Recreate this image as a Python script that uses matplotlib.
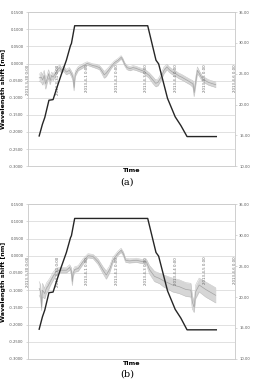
import matplotlib.pyplot as plt

# x positions are days after 2013-3-30 0:00
date_labels = ['2013-3-30 0:00', '2013-3-31 0:00', '2013-4-1 0:00', '2013-4-2 0:00',
               '2013-4-3 0:00', '2013-4-4 0:00', '2013-4-5 0:00', '2013-4-6 0:00']
left_ticks = [0.15, 0.10, 0.05, 0.0, -0.05, -0.10, -0.15, -0.20, -0.25, -0.30]
right_ticks = [35, 30, 25, 20, 15, 10]

# temperature profile (right axis)
temp_days = [0.38, 0.49, 0.57, 0.71, 0.85, 0.99, 1.13, 1.30, 1.44, 1.47, 1.58,
             4.05, 4.33, 4.42, 4.72, 4.98, 5.17, 5.38, 6.37]
temp_a = [14.9, 16.8, 17.9, 20.7, 20.8, 22.9, 24.9, 27.2, 29.6, 29.9, 32.8,
          32.8, 27.2, 26.6, 21.0, 18.0, 16.6, 14.8, 14.8]
temp_b = [14.8, 16.8, 17.9, 20.7, 20.8, 22.9, 24.9, 27.2, 29.6, 29.9, 32.7,
          32.7, 27.2, 26.6, 21.0, 18.0, 16.6, 14.7, 14.7]

# wavelength shift (a): mid line and half width of the grey band
days_a = [0.38, 0.45, 0.50, 0.55, 0.60, 0.65, 0.70, 0.75, 0.80, 0.85, 0.92, 1.00,
          1.07, 1.13, 1.20, 1.30, 1.40, 1.47, 1.52, 1.56, 1.60, 1.70, 1.80, 1.90,
          2.00, 2.10, 2.20, 2.30, 2.42, 2.50, 2.58, 2.65, 2.72, 2.82, 2.93, 3.05,
          3.15, 3.20, 3.27, 3.35, 3.45, 3.55, 3.65, 3.77, 3.90, 4.00, 4.10, 4.22,
          4.32, 4.40, 4.50, 4.60, 4.70, 4.78, 4.89, 5.00, 5.10, 5.20, 5.30, 5.40,
          5.50, 5.58, 5.62, 5.66, 5.73, 5.80, 5.90, 6.00, 6.10, 6.20, 6.35]
shift_a = [-0.042, -0.040, -0.048, -0.035, -0.060, -0.045, -0.030, -0.050, -0.035,
           -0.040, -0.030, -0.018, -0.012, -0.020, -0.015, -0.025, -0.020, -0.030,
           -0.040, -0.070, -0.030, -0.015, -0.010, -0.005, 0.000, -0.003, -0.006,
           -0.008, -0.012, -0.022, -0.033, -0.028, -0.020, -0.008, 0.003, 0.010,
           0.018, 0.012, -0.002, -0.012, -0.015, -0.012, -0.014, -0.018, -0.022,
           -0.028, -0.035, -0.048, -0.058, -0.055, -0.040, -0.020, -0.010, -0.018,
           -0.025, -0.030, -0.036, -0.040, -0.045, -0.050, -0.055, -0.060, -0.085,
           -0.060, -0.020, -0.030, -0.045, -0.050, -0.055, -0.058, -0.062]
spread_a = [0.010, 0.015, 0.015, 0.015, 0.015, 0.012, 0.012, 0.012, 0.010, 0.010,
            0.008, 0.008, 0.008, 0.008, 0.008, 0.008, 0.008, 0.008, 0.010, 0.010,
            0.008, 0.006, 0.006, 0.006, 0.005, 0.005, 0.005, 0.006, 0.006, 0.008,
            0.010, 0.010, 0.008, 0.006, 0.005, 0.005, 0.005, 0.005, 0.005, 0.006,
            0.006, 0.006, 0.006, 0.006, 0.006, 0.008, 0.008, 0.010, 0.010, 0.010,
            0.010, 0.010, 0.008, 0.008, 0.008, 0.008, 0.008, 0.008, 0.008, 0.008,
            0.008, 0.010, 0.012, 0.012, 0.010, 0.008, 0.008, 0.008, 0.008, 0.008,
            0.008]

# wavelength shift (b)
days_b = [0.38, 0.43, 0.46, 0.49, 0.57, 0.62, 0.68, 0.75, 0.85, 0.96, 1.07, 1.19,
          1.30, 1.41, 1.47, 1.50, 1.53, 1.58, 1.70, 1.86, 2.03, 2.20, 2.37, 2.54,
          2.65, 2.76, 2.87, 3.04, 3.15, 3.23, 3.30, 3.43, 3.66, 3.88, 4.00, 4.11,
          4.28, 4.45, 4.61, 4.72, 4.89, 5.12, 5.34, 5.51, 5.56, 5.62, 5.67, 5.79,
          6.01, 6.35]
shift_b = [-0.095, -0.105, -0.150, -0.100, -0.110, -0.095, -0.088, -0.076, -0.060,
           -0.046, -0.042, -0.042, -0.042, -0.034, -0.045, -0.075, -0.050, -0.040,
           -0.037, -0.017, 0.000, -0.002, -0.017, -0.042, -0.056, -0.040, -0.013,
           0.007, 0.016, 0.005, -0.013, -0.015, -0.013, -0.017, -0.017, -0.040,
           -0.060, -0.066, -0.074, -0.078, -0.085, -0.090, -0.098, -0.100, -0.135,
           -0.150, -0.105, -0.085, -0.098, -0.115]
spread_b = [0.020, 0.020, 0.010, 0.020, 0.015, 0.015, 0.015, 0.012, 0.012, 0.010,
            0.008, 0.008, 0.008, 0.008, 0.010, 0.012, 0.010, 0.008, 0.008, 0.008,
            0.006, 0.006, 0.008, 0.010, 0.012, 0.010, 0.008, 0.006, 0.006, 0.006,
            0.006, 0.006, 0.006, 0.006, 0.008, 0.012, 0.015, 0.015, 0.018, 0.018,
            0.020, 0.020, 0.020, 0.020, 0.020, 0.015, 0.020, 0.020, 0.022, 0.022]

fig = plt.figure(figsize=(2.54, 3.81), dpi=100)
fig.patch.set_facecolor('white')


def draw_panel(rect, days, shift, spread, temps, tag, tag_y):
    ax = fig.add_axes(rect)
    lo = [m - s for m, s in zip(shift, spread)]
    hi = [m + s for m, s in zip(shift, spread)]
    ax.fill_between(days, lo, hi, color='#d6d6d6', lw=0, zorder=2)
    ax.plot(days, lo, color='#bdbdbd', lw=0.35, zorder=3)
    ax.plot(days, hi, color='#c2c2c2', lw=0.35, zorder=3)
    ax.plot(days, shift, color='#a3a3a3', lw=0.5, zorder=3)
    ax.set_xlim(0, 7)
    ax.set_ylim(-0.30, 0.15)
    ax.set_yticks(left_ticks)
    ax.set_yticklabels(['%.4f' % v for v in left_ticks], fontsize=2.7, color='#555555')
    ax.set_xticks([])
    ax.grid(axis='y', color='#d4d4d4', lw=0.5, zorder=0)
    ax.tick_params(axis='y', length=1.5, width=0.4, color='#bbbbbb', pad=1.5)
    for sp in ax.spines.values():
        sp.set_color('#cccccc')
        sp.set_linewidth(0.5)
    for i, lab in enumerate(date_labels):
        ax.text(i, -0.003, lab, rotation=90, ha='center', va='top',
                fontsize=2.8, color='#666666', zorder=4)
    ax.set_ylabel('Wavelength shift [nm]', fontsize=4.6, fontweight='bold', labelpad=2)
    ax.set_xlabel('Time', fontsize=4.6, fontweight='bold', labelpad=1.5)

    ax2 = ax.twinx()
    ax2.plot(temp_days, temps, color='#262626', lw=1.0, zorder=5)
    ax2.set_ylim(10, 35)
    ax2.set_yticks(right_ticks)
    ax2.set_yticklabels(['%.2f' % v for v in right_ticks], fontsize=2.7, color='#555555')
    ax2.tick_params(axis='y', length=1.5, width=0.4, color='#bbbbbb', pad=1.5)
    for sp in ax2.spines.values():
        sp.set_color('#cccccc')
        sp.set_linewidth(0.5)
    fig.text(0.5, tag_y, tag, ha='center', va='center', fontsize=7, family='DejaVu Serif')


draw_panel([0.110, 0.564, 0.815, 0.404], days_a, shift_a, spread_a, temp_a, '(a)', 0.522)
draw_panel([0.110, 0.058, 0.815, 0.406], days_b, shift_b, spread_b, temp_b, '(b)', 0.017)

fig.savefig('out.png', dpi=100)
